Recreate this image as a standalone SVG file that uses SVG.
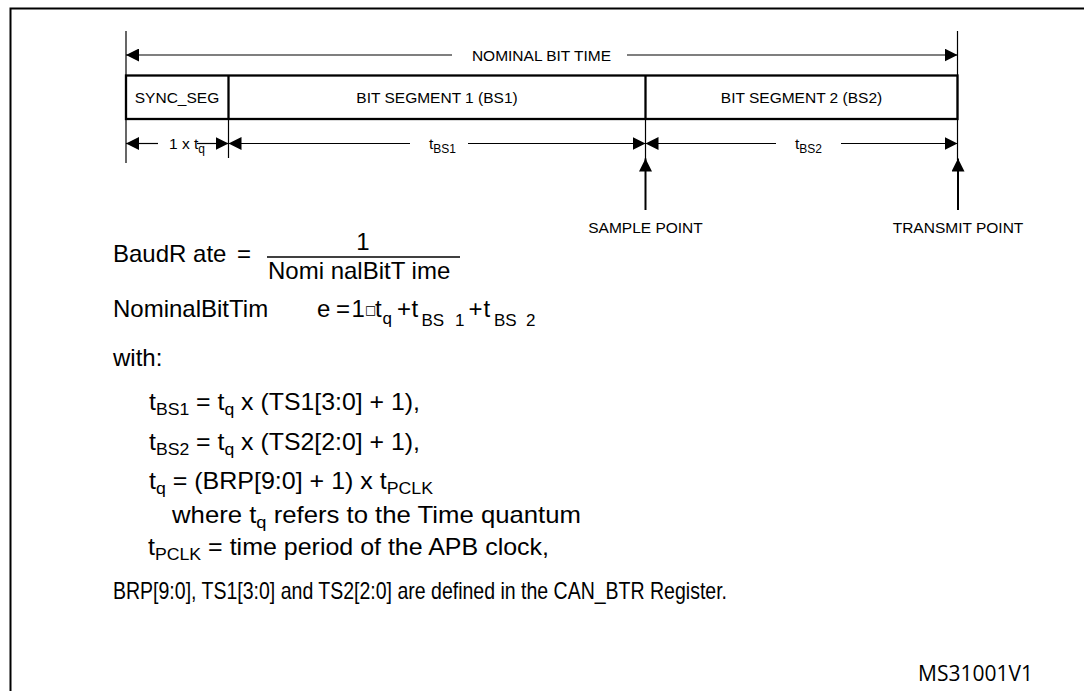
<svg xmlns="http://www.w3.org/2000/svg" width="1084" height="691" viewBox="0 0 1084 691">
<style>
text{font-family:"Liberation Sans",Arial,sans-serif;fill:#000}
.lbl{font-size:15.5px}
.sub{font-size:12px}
.f{font-size:24px}
.fs{font-size:17px}
.b{font-size:24px}
.bs{font-size:17px}
.thin{stroke:#000;stroke-width:1.2;fill:none}
.mid{stroke:#000;stroke-width:2;fill:none}
.thick{stroke:#000;stroke-width:2.3;fill:none}
</style>
<defs>
<marker id="ah" viewBox="0 0 13 13" refX="13" refY="6.5" markerWidth="13" markerHeight="13" markerUnits="userSpaceOnUse" orient="auto-start-reverse">
<path d="M0,0 L13,6.5 L0,13 z" fill="#000"/>
</marker>
</defs>
<rect width="1084" height="691" fill="#fff"/>
<g id="frame">
<path d="M10.5,691 V8.5 H1084" class="mid"/>
</g>
<g id="segments">
<rect x="126" y="75.5" width="831.5" height="43.5" class="thick"/>
<line x1="228.5" y1="75.5" x2="228.5" y2="119" class="thick"/>
<line x1="645.5" y1="75.5" x2="645.5" y2="119" class="thick"/>
</g>
<g id="sync_seg"><text class="lbl" x="177" y="103" text-anchor="middle">SYNC_SEG</text></g>
<g id="bs1"><text class="lbl" x="437" y="103" text-anchor="middle">BIT SEGMENT 1 (BS1)</text></g>
<g id="bs2"><text class="lbl" x="801.5" y="103" text-anchor="middle">BIT SEGMENT 2 (BS2)</text></g>
<g id="connectors">
<line x1="126" y1="31" x2="126" y2="163" class="thin"/>
<line x1="957.5" y1="31" x2="957.5" y2="160" class="thin"/>
<line x1="228.5" y1="119" x2="228.5" y2="158" class="thin"/>
<line x1="645.5" y1="119" x2="645.5" y2="159" class="thin"/>
<line x1="452" y1="55" x2="126" y2="55" class="thin" marker-end="url(#ah)"/>
<line x1="627" y1="55" x2="957.5" y2="55" class="thin" marker-end="url(#ah)"/>
<line x1="158" y1="143.5" x2="126" y2="143.5" class="thin" marker-end="url(#ah)"/>
<line x1="197" y1="143.5" x2="228.5" y2="143.5" class="thin" marker-end="url(#ah)"/>
<line x1="410" y1="143.5" x2="228.5" y2="143.5" class="thin" marker-end="url(#ah)"/>
<line x1="468" y1="143.5" x2="645.5" y2="143.5" class="thin" marker-end="url(#ah)"/>
<line x1="776" y1="143.5" x2="645.5" y2="143.5" class="thin" marker-end="url(#ah)"/>
<line x1="841" y1="143.5" x2="957.5" y2="143.5" class="thin" marker-end="url(#ah)"/>
<line x1="645.5" y1="210" x2="645.5" y2="158.5" class="mid" marker-end="url(#ah)"/>
<line x1="958" y1="210" x2="958" y2="158.5" class="mid" marker-end="url(#ah)"/>
</g>
<g id="dim_labels">
<text class="lbl" x="541.5" y="60.5" text-anchor="middle">NOMINAL BIT TIME</text>
<text class="lbl" x="169" y="149">1 x t<tspan class="sub" dy="4">q</tspan></text>
<text class="lbl" x="429" y="149">t<tspan class="sub" dy="4">BS1</tspan></text>
<text class="lbl" x="795" y="149">t<tspan class="sub" dy="4">BS2</tspan></text>
</g>
<g id="sample_point"><text class="lbl" x="645.5" y="233" text-anchor="middle">SAMPLE POINT</text></g>
<g id="transmit_point"><text class="lbl" x="958" y="233" text-anchor="middle">TRANSMIT POINT</text></g>
<g id="formulas">
<text class="f" x="113" y="262">BaudR ate</text>
<text class="f" x="237" y="262">=</text>
<text class="f" x="363" y="250" text-anchor="middle">1</text>
<line x1="267" y1="257" x2="460" y2="257" stroke="#000" stroke-width="1.3"/>
<text class="f" x="268" y="279">Nomi nalBitT ime</text>
<text class="f" y="317"><tspan x="113">NominalBitTim</tspan><tspan x="317">e</tspan><tspan x="336">=</tspan><tspan x="351.5">1</tspan><tspan x="365" style="font-family:'DejaVu Sans',sans-serif;font-size:12px" dy="-3">□</tspan><tspan x="375" dy="3">t</tspan><tspan class="fs" x="382.5" dy="7">q</tspan><tspan x="397" dy="-7">+</tspan><tspan x="411.5">t</tspan><tspan class="fs" x="421.5" dy="9">BS</tspan><tspan class="fs" x="455">1</tspan><tspan x="468.5" dy="-9">+</tspan><tspan x="483.5">t</tspan><tspan class="fs" x="494" dy="9">BS</tspan><tspan class="fs" x="526">2</tspan></text>
</g>
<g id="notes">
<text class="b" x="113" y="366">with:</text>
<text class="b" x="149" y="410" textLength="271" lengthAdjust="spacingAndGlyphs">t<tspan class="bs" dy="5">BS1</tspan><tspan dy="-5"> = t</tspan><tspan class="bs" dy="5">q</tspan><tspan dy="-5"> x (TS1[3:0] + 1),</tspan></text>
<text class="b" x="149" y="450" textLength="271" lengthAdjust="spacingAndGlyphs">t<tspan class="bs" dy="5">BS2</tspan><tspan dy="-5"> = t</tspan><tspan class="bs" dy="5">q</tspan><tspan dy="-5"> x (TS2[2:0] + 1),</tspan></text>
<text class="b" x="149" y="489" textLength="284" lengthAdjust="spacingAndGlyphs">t<tspan class="bs" dy="5">q</tspan><tspan dy="-5"> = (BRP[9:0] + 1) x t</tspan><tspan class="bs" dy="5">PCLK</tspan></text>
<text class="b" x="172" y="523" textLength="409" lengthAdjust="spacingAndGlyphs">where t<tspan class="bs" dy="5">q</tspan><tspan dy="-5"> refers to the Time quantum</tspan></text>
<text class="b" x="148" y="555" textLength="401" lengthAdjust="spacingAndGlyphs">t<tspan class="bs" dy="5">PCLK</tspan><tspan dy="-5"> = time period of the APB clock,</tspan></text>
<text class="b" x="113" y="599" textLength="614" lengthAdjust="spacingAndGlyphs">BRP[9:0], TS1[3:0] and TS2[2:0] are defined in the CAN_BTR Register.</text>
</g>
<g id="ref"><text style="font-family:'Open Sans',sans-serif;font-size:21px" x="918" y="681" textLength="115" lengthAdjust="spacingAndGlyphs">MS31001V1</text></g>
</svg>
